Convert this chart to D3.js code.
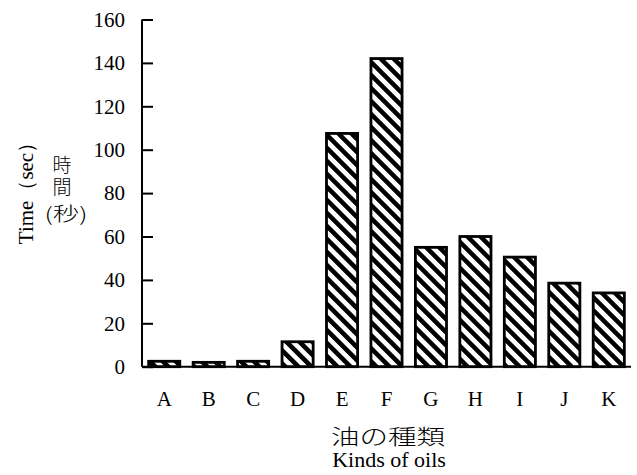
<!DOCTYPE html>
<html>
<head>
<meta charset="utf-8">
<script src="https://cdn.jsdelivr.net/npm/d3@7"></script>
<style>
html,body{margin:0;padding:0;background:#fff;}
svg{display:block;}
</style>
</head>
<body>
<svg id="chart" width="637" height="475"></svg>
<script>
const categories = ["A","B","C","D","E","F","G","H","I","J","K"];
const values = [2.5, 2, 2.5, 11.5, 107.5, 142, 55, 60, 50.5, 38.5, 34];
const yTicks = [0, 20, 40, 60, 80, 100, 120, 140, 160];

const svg = d3.select("#chart");
const serif = "'Liberation Serif','DejaVu Serif',serif";
const cjk = "'Noto Sans CJK JP','Noto Sans CJK SC',sans-serif";

const defs = svg.append("defs");
const pat = defs.append("pattern")
  .attr("id","hatch").attr("patternUnits","userSpaceOnUse")
  .attr("width",9.2).attr("height",9.2)
  .attr("patternTransform","rotate(45)");
pat.append("rect").attr("width",9.2).attr("height",9.2).attr("fill","#fff");
pat.append("rect").attr("y",0).attr("width",9.2).attr("height",4.6).attr("fill","#000");

const x = d3.scaleBand().domain(categories).range([142, 631]).paddingInner(0.3).paddingOuter(0.15);
const y = d3.scaleLinear().domain([0,160]).range([366.7, 19.5]);

// bars
svg.append("g").selectAll("rect").data(categories).join("rect")
  .attr("x", d => x(d))
  .attr("y", (d,i) => y(values[i]))
  .attr("width", x.bandwidth())
  .attr("height", (d,i) => y(0) - y(values[i]))
  .attr("fill","url(#hatch)")
  .attr("stroke","#000").attr("stroke-width",2.8);

// y axis
const yAxis = d3.axisRight(y).tickValues(yTicks).tickSize(11).tickFormat("");
const gy = svg.append("g").attr("transform","translate(142,0)").call(yAxis);
gy.select(".domain").attr("d", `M0,${y(160)}V${y(0)}`).attr("stroke","#000").attr("stroke-width",2);
gy.selectAll(".tick line").attr("stroke","#000").attr("stroke-width",2);
svg.append("g").selectAll("text").data(yTicks).join("text")
  .attr("x",125).attr("y", d => y(d)).attr("dy","0.35em")
  .attr("text-anchor","end")
  .attr("font-family",serif).attr("font-size",21).attr("fill","#000")
  .text(d => d);

// x axis
const xAxis = d3.axisBottom(x).tickSize(0).tickFormat("");
const gx = svg.append("g").attr("transform",`translate(0,${y(0)})`).call(xAxis);
gx.select(".domain").attr("d","M142,0H631").attr("stroke","#000").attr("stroke-width",2);
svg.append("g").selectAll("text").data(categories).join("text")
  .attr("x", d => x(d) + x.bandwidth()/2).attr("y",406)
  .attr("text-anchor","middle")
  .attr("font-family",serif).attr("font-size",21).attr("fill","#000")
  .text(d => d);

// x title
svg.append("text").attr("x",388).attr("y",444)
  .attr("text-anchor","middle").attr("font-family",cjk).attr("font-size",21)
  .attr("font-weight",300).attr("textLength",114).attr("lengthAdjust","spacingAndGlyphs")
  .attr("fill","#000").text("油の種類");
svg.append("text").attr("x",389).attr("y",467)
  .attr("text-anchor","middle").attr("font-family",serif).attr("font-size",22)
  .attr("fill","#000").text("Kinds of oils");

// y title
svg.append("text").attr("transform","translate(33,188) rotate(-90)")
  .attr("text-anchor","middle").attr("font-family",serif).attr("font-size",21)
  .attr("fill","#000").text("Time（sec）");
svg.append("text").attr("x",62).attr("y",155)
  .attr("font-family",cjk).attr("font-size",19).attr("font-weight",300)
  .style("writing-mode","vertical-rl").style("text-orientation","upright")
  .attr("letter-spacing",3)
  .attr("fill","#000").text("時間");
svg.append("text").attr("x",66).attr("y",221)
  .attr("text-anchor","middle").attr("font-family",cjk).attr("font-size",19)
  .attr("font-weight",300).attr("textLength",43).attr("lengthAdjust","spacingAndGlyphs")
  .attr("fill","#000").text("(秒)");
</script>
</body>
</html>
